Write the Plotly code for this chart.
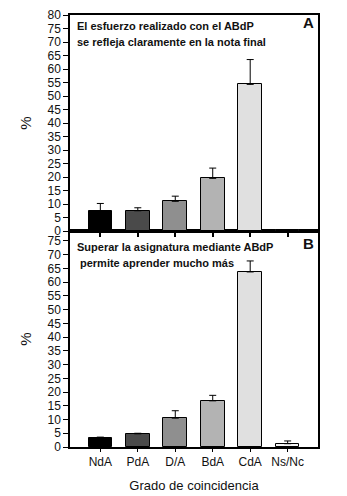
import plotly.graph_objects as go

categories = ["NdA", "PdA", "D/A", "BdA", "CdA", "Ns/Nc"]
values_a = [7.3, 7.5, 11.0, 19.5, 54.3, 0.3]
errors_a = [2.9, 1.1, 1.9, 3.8, 9.2, 0.2]
values_b = [3.2, 4.8, 10.5, 16.8, 63.7, 1.2]
errors_b = [0.4, 0.2, 2.7, 2.0, 4.0, 1.0]
y_ticks_a = list(range(0, 81, 5))
y_ticks_b = list(range(0, 76, 5))
bar_colors = ["#000000", "#4a4a4a", "#8f8f8f", "#b3b3b3", "#e0e0e0", "#f4f4f4"]

FONT = "Liberation Sans, Arial, sans-serif"
L, R, T, B = 70, 29, 15, 49
W, H = 347, 496
PW, PH = W - L - R, H - T - B

fig = go.Figure()

def add_bars(vals, errs, xa, ya):
    fig.add_trace(go.Bar(
        x=categories, y=vals, xaxis=xa, yaxis=ya,
        width=0.63,
        marker=dict(color=bar_colors, line=dict(color="#000000", width=1)),
        error_y=dict(type="data", array=errs, arrayminus=[0] * len(errs),
                     symmetric=False, color="#000000", thickness=1, width=3.5),
        showlegend=False,
    ))

add_bars(values_a, errors_a, "x2", "y2")
add_bars(values_b, errors_b, "x", "y")

axis_common = dict(showline=True, linecolor="#000000", linewidth=1.5, mirror=True,
                   showgrid=False, zeroline=False, automargin=False)

fig.update_layout(
    width=W, height=H,
    margin=dict(l=L, r=R, t=T, b=B),
    paper_bgcolor="white", plot_bgcolor="white",
    font=dict(family=FONT, size=12, color="#111111"),
    bargap=0,
    xaxis=dict(domain=[0, 1], anchor="y", range=[-0.81, 5.81],
               ticks="outside", ticklen=3, tickwidth=1.2, tickcolor="#000000",
               tickfont=dict(size=12),
               title=dict(text="Grado de coincidencia", font=dict(size=13), standoff=13),
               **axis_common),
    xaxis2=dict(domain=[0, 1], anchor="y2", matches="x", range=[-0.81, 5.81],
                showticklabels=False, ticks="outside", ticklen=4, tickwidth=1.5,
                tickcolor="#000000", **axis_common),
    yaxis=dict(domain=[0, 0.5], anchor="x", range=[0, 78.6],
               tickvals=y_ticks_b, ticks="outside", ticklen=5, tickwidth=1.2,
               tickcolor="#000000", tickfont=dict(size=12),
               title=dict(text="%", font=dict(size=15), standoff=12),
               **axis_common),
    yaxis2=dict(domain=[0.5, 1], anchor="x2", range=[0, 80],
                tickvals=y_ticks_a, ticks="outside", ticklen=5, tickwidth=1.2,
                tickcolor="#000000", tickfont=dict(size=12),
                title=dict(text="%", font=dict(size=15), standoff=12),
                **axis_common),
)

ann_font = dict(family=FONT, size=11, color="#111111")
annotations = [
    dict(text="<b>El esfuerzo realizado con el ABdP</b>", x=75, y=26),
    dict(text="<b>se refleja claramente en la nota final</b>", x=75, y=42),
    dict(text="<b>Superar la asignatura mediante ABdP</b>", x=75, y=247),
    dict(text="<b>permite aprender mucho más</b>", x=78, y=263),
]
for a in annotations:
    fig.add_annotation(text=a["text"], xref="paper", yref="paper",
                       x=(a["x"] - L) / PW, y=1 - (a["y"] - T) / PH,
                       xanchor="left", yanchor="middle", showarrow=False, font=ann_font)
for lab, yy in [("A", 23), ("B", 243)]:
    fig.add_annotation(text="<b>" + lab + "</b>", xref="paper", yref="paper",
                       x=(316 - L) / PW, y=1 - (yy - T) / PH,
                       xanchor="right", yanchor="middle", showarrow=False,
                       font=dict(family=FONT, size=15, color="#111111"))

fig.write_html("out.html", config={"displayModeBar": False},
               post_script="document.body.style.margin='0';document.body.style.overflow='hidden';")
